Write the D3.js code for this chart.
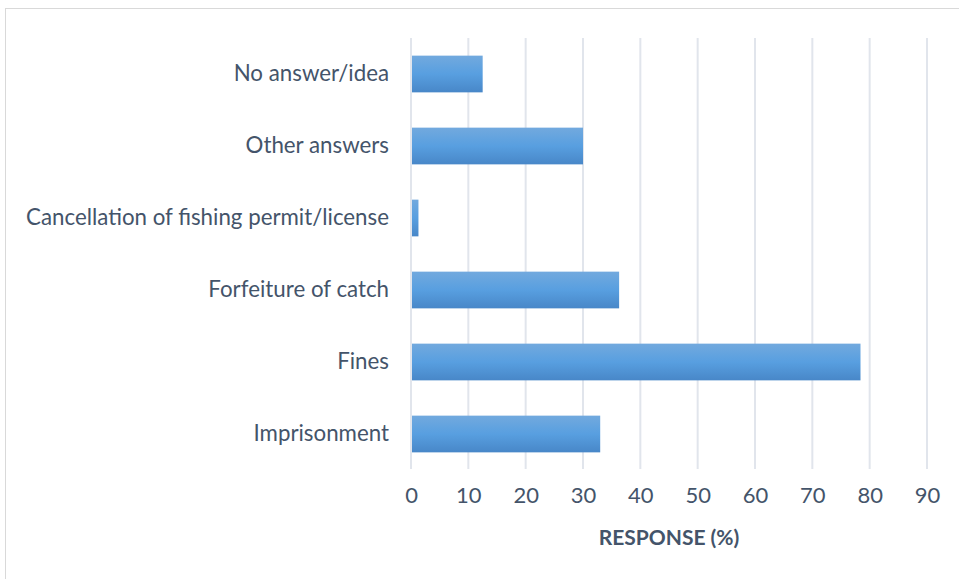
<!DOCTYPE html>
<html>
<head>
<meta charset="utf-8">
<script src="https://cdn.jsdelivr.net/npm/d3@7"></script>
<style>
  html, body { margin: 0; padding: 0; background: #fff; }
  svg { display: block; }
</style>
</head>
<body>
<svg id="chart" width="959" height="579"></svg>
<script>
// Responses to the question on penalties, percent of respondents
const categories = [
  "No answer/idea",
  "Other answers",
  "Cancellation of fishing permit/license",
  "Forfeiture of catch",
  "Fines",
  "Imprisonment"
];
const responses = [12.5, 30, 1.3, 36.3, 78.4, 33];
const tickValues = [0, 10, 20, 30, 40, 50, 60, 70, 80, 90];
const axisTitle = "RESPONSE (%)";

const svg = d3.select("#chart");
const W = 959, H = 579;
const plot = { left: 411, right: 927, top: 38, bottom: 470 };
const textColor = "#44546a";
const fontFamily = "Lato, 'Open Sans', sans-serif";

// chart area frame
svg.append("rect")
  .attr("x", 5.5).attr("y", 8.5)
  .attr("width", W).attr("height", H)
  .attr("fill", "#fff")
  .attr("stroke", "#d9d9d9").attr("stroke-width", 1);

const defs = svg.append("defs");
const grad = defs.append("linearGradient")
  .attr("id", "barFill").attr("x1", 0).attr("y1", 0).attr("x2", 0).attr("y2", 1);
grad.append("stop").attr("offset", "0%").attr("stop-color", "#72a9de");
grad.append("stop").attr("offset", "50%").attr("stop-color", "#589fe0");
grad.append("stop").attr("offset", "100%").attr("stop-color", "#4887c8");

const x = d3.scaleLinear().domain([0, 90]).range([plot.left, plot.right]);
const y = d3.scaleBand().domain(categories).range([plot.top, plot.bottom]).paddingInner(0.49).paddingOuter(0.245);

// vertical gridlines
svg.append("g")
  .selectAll("line")
  .data(tickValues)
  .join("line")
  .attr("x1", d => x(d)).attr("x2", d => x(d))
  .attr("y1", plot.top).attr("y2", plot.bottom - 1)
  .attr("stroke", "#e1e5ec").attr("stroke-width", 2);

// bars
svg.append("g")
  .selectAll("rect")
  .data(categories.map((c, i) => ({ c, v: responses[i] })))
  .join("rect")
  .attr("x", x(0) + 1)
  .attr("y", d => y(d.c))
  .attr("width", d => x(d.v) - x(0) - 1)
  .attr("height", y.bandwidth())
  .attr("fill", "url(#barFill)");

// category axis labels
const yAxis = d3.axisLeft(y).tickSize(0).tickPadding(22);
const gy = svg.append("g").attr("transform", `translate(${plot.left},0)`).call(yAxis);
gy.select(".domain").remove();
gy.selectAll("text")
  .attr("fill", textColor)
  .style("font-family", fontFamily)
  .style("font-size", "22.3px");

// value axis labels
const xAxis = d3.axisBottom(x).tickValues(tickValues).tickSize(0).tickPadding(0);
const gx = svg.append("g").attr("transform", `translate(0,${plot.bottom + 17})`).call(xAxis);
gx.select(".domain").remove();
gx.selectAll("text")
  .attr("fill", textColor)
  .style("font-family", fontFamily)
  .style("font-size", "22px");

// axis title
svg.append("text")
  .attr("x", (plot.left + plot.right) / 2)
  .attr("y", 545)
  .attr("text-anchor", "middle")
  .attr("fill", textColor)
  .style("font-family", fontFamily)
  .style("font-weight", "bold")
  .style("font-size", "21px")
  .text(axisTitle);
</script>
</body>
</html>
